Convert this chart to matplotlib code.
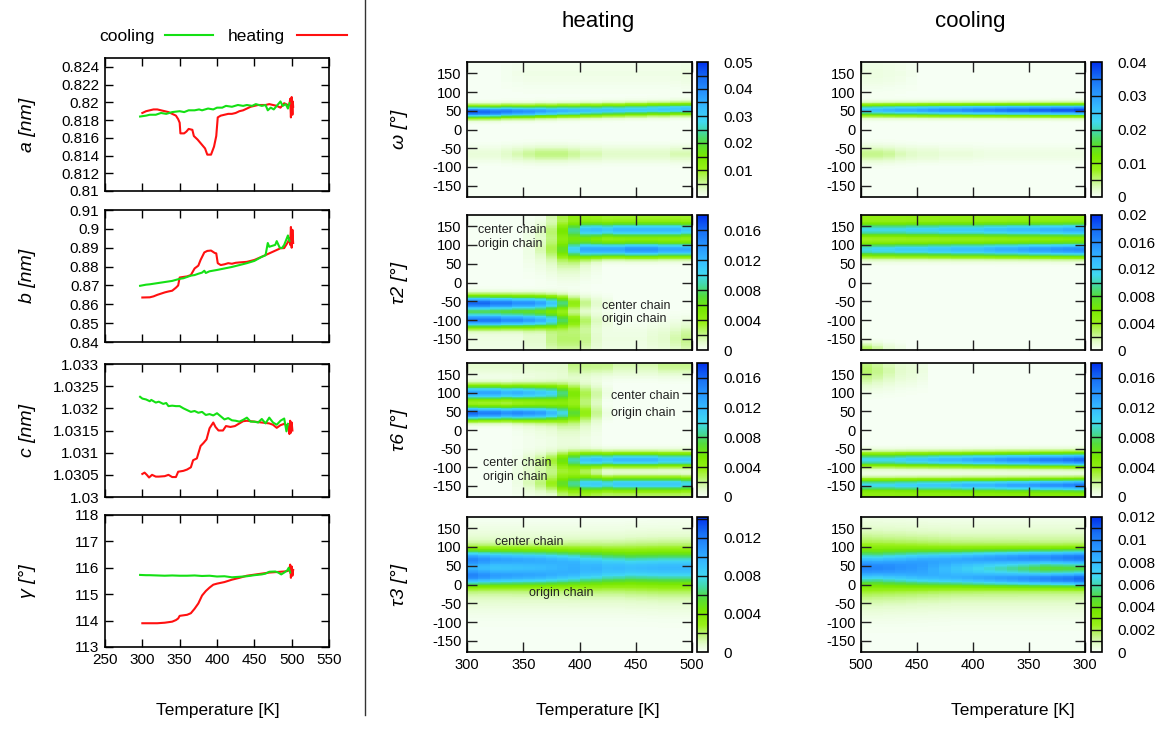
import numpy as np
import matplotlib
matplotlib.use('Agg')
import matplotlib.pyplot as plt
from matplotlib.colors import LinearSegmentedColormap, Normalize
from matplotlib.lines import Line2D

plt.rcParams['font.family'] = ['Liberation Sans', 'DejaVu Sans']
plt.rcParams['axes.unicode_minus'] = False

# ---------------- lattice parameter data (left column) ----------------
A_HEAT_T = [300, 305, 310, 315, 320, 325, 330, 335, 340, 345, 348, 350, 351, 356, 359, 362, 367, 369, 374, 379,
            384, 387, 392, 396, 399, 401, 405, 410, 415, 420, 425, 430, 435, 440, 445, 450, 455, 460, 465, 470,
            475, 480, 485, 490, 495, 497, 498, 499, 500, 501, 501.5, 502]
A_HEAT_V = [0.8188, 0.8190, 0.8191, 0.8192, 0.8192, 0.8191, 0.8190, 0.8189, 0.8187, 0.8185, 0.8181, 0.8177,
            0.8165, 0.8165, 0.8167, 0.8170, 0.8169, 0.8162, 0.8158, 0.8153, 0.8148, 0.8141, 0.8141, 0.8150,
            0.8162, 0.8183, 0.8185, 0.8186, 0.8187, 0.8187, 0.8188, 0.8190, 0.8191, 0.8193, 0.8195, 0.8196,
            0.8197, 0.8197, 0.8197, 0.8198, 0.8197, 0.8196, 0.8194, 0.8199, 0.8197, 0.8197, 0.8204, 0.8183,
            0.8206, 0.8186, 0.8201, 0.8195]
A_COOL_T = [297, 305, 310, 318, 325, 332, 340, 350, 356, 362, 370, 376, 380, 388, 395, 400, 407, 412, 420, 428,
            435, 440, 447, 452, 460, 465, 468, 472, 476, 480, 485, 488, 492, 495, 497]
A_COOL_V = [0.8184, 0.8185, 0.8186, 0.8186, 0.8188, 0.8187, 0.8189, 0.8190, 0.8189, 0.8191, 0.8191, 0.8192,
            0.8191, 0.8193, 0.8192, 0.8194, 0.8194, 0.8196, 0.8195, 0.8197, 0.8196, 0.8197, 0.8196, 0.8198,
            0.8196, 0.8197, 0.8191, 0.8194, 0.8192, 0.8196, 0.8201, 0.8196, 0.8198, 0.8193, 0.8199]

B_HEAT_T = [300, 310, 315, 320, 330, 335, 340, 345, 348, 350, 355, 360, 365, 370, 375, 378, 383, 387, 392, 397,
            399, 401, 405, 410, 415, 420, 425, 430, 440, 450, 460, 470, 480, 485, 490, 495, 497, 498, 499, 500,
            501, 502]
B_HEAT_V = [0.8636, 0.8637, 0.8642, 0.8650, 0.8663, 0.8668, 0.8672, 0.8688, 0.8700, 0.8742, 0.8745, 0.8748,
            0.8755, 0.8790, 0.8805, 0.8835, 0.8875, 0.8883, 0.8885, 0.8872, 0.8870, 0.8818, 0.8808, 0.8812,
            0.8818, 0.8815, 0.8820, 0.8822, 0.8825, 0.8835, 0.8852, 0.8870, 0.8888, 0.8897, 0.8898, 0.8930,
            0.8950, 0.8915, 0.9010, 0.8900, 0.8995, 0.8925]
B_COOL_T = [297, 305, 310, 320, 330, 340, 350, 355, 360, 365, 370, 375, 380, 383, 385, 390, 400, 410, 420, 430,
            440, 450, 460, 465, 468, 470, 474, 478, 480, 484, 487, 490, 495, 497]
B_COOL_V = [0.8698, 0.8704, 0.8706, 0.8712, 0.8718, 0.8724, 0.8735, 0.8738, 0.8745, 0.8752, 0.8755, 0.8762,
            0.8768, 0.8778, 0.8766, 0.8775, 0.8782, 0.8790, 0.8798, 0.8808, 0.8818, 0.8830, 0.8852, 0.8860,
            0.8925, 0.8905, 0.8910, 0.8915, 0.8935, 0.8900, 0.8898, 0.8915, 0.8965, 0.8935]

C_HEAT_T = [300, 303, 306, 309, 313, 318, 322, 330, 335, 340, 345, 348, 355, 360, 365, 368, 373, 378, 382, 386,
            390, 395, 398, 402, 408, 412, 418, 424, 430, 435, 440, 450, 460, 470, 475, 480, 485, 490, 495, 497,
            498, 499, 500, 501]
C_HEAT_V = [1.03052, 1.03055, 1.03050, 1.03044, 1.03050, 1.03046, 1.03046, 1.03047, 1.03050, 1.03045, 1.03045,
            1.03057, 1.03059, 1.03062, 1.03067, 1.03083, 1.03087, 1.03115, 1.03122, 1.03130, 1.03155, 1.03168,
            1.03158, 1.03150, 1.03150, 1.03160, 1.03158, 1.03160, 1.03166, 1.03171, 1.03172, 1.03170, 1.03168,
            1.03166, 1.03163, 1.03156, 1.03162, 1.03165, 1.03160, 1.03142, 1.03172, 1.03145, 1.03168, 1.03150]
C_COOL_T = [297, 300, 305, 310, 312, 318, 322, 328, 332, 335, 340, 345, 350, 355, 360, 365, 370, 375, 380, 385,
            390, 395, 400, 405, 410, 415, 420, 425, 430, 435, 440, 445, 450, 455, 460, 465, 470, 475, 480, 485,
            490, 493, 495]
C_COOL_V = [1.03226, 1.03222, 1.03220, 1.03216, 1.03219, 1.03213, 1.03215, 1.03210, 1.03212, 1.03205, 1.03206,
            1.03205, 1.03205, 1.03200, 1.03196, 1.03192, 1.03194, 1.03190, 1.03192, 1.03185, 1.03187, 1.03184,
            1.03189, 1.03182, 1.03175, 1.03178, 1.03173, 1.03172, 1.03170, 1.03174, 1.03179, 1.03170, 1.03170,
            1.03168, 1.03176, 1.03166, 1.03179, 1.03168, 1.03163, 1.03172, 1.03177, 1.03148, 1.03165]

G_HEAT_T = [300, 310, 320, 330, 340, 345, 348, 350, 360, 365, 370, 375, 380, 385, 390, 395, 400, 410, 420, 430,
            440, 450, 460, 470, 480, 490, 495, 497, 498, 499, 500, 501, 502]
G_HEAT_V = [113.90, 113.90, 113.90, 113.92, 113.96, 114.02, 114.08, 114.18, 114.22, 114.28, 114.45, 114.65,
            114.95, 115.12, 115.25, 115.36, 115.40, 115.46, 115.55, 115.62, 115.70, 115.74, 115.78, 115.82,
            115.84, 115.86, 115.88, 115.95, 116.12, 115.62, 116.05, 115.70, 115.92]
G_COOL_T = [297, 305, 310, 320, 330, 340, 350, 360, 370, 380, 390, 400, 410, 420, 430, 440, 450, 460, 465, 470,
            478, 482, 486, 490, 494, 496, 498]
G_COOL_V = [115.73, 115.72, 115.72, 115.71, 115.70, 115.71, 115.70, 115.70, 115.71, 115.69, 115.70, 115.67,
            115.68, 115.64, 115.66, 115.68, 115.72, 115.75, 115.78, 115.85, 115.86, 115.82, 115.75, 115.82,
            115.90, 116.00, 115.82]

# ---------------- torsion-angle distributions (heat maps) ----------------
TEMP_BINS = [300, 310, 320, 330, 340, 350, 360, 370, 380, 390, 400, 410, 420, 430, 440, 450, 460, 470, 480, 490, 500]

# each peak: centre [deg] (scalar or per temperature bin), width [deg], peak density per temperature bin
H_OMEGA_CENTERS = [[47, 47, 47, 48, 48, 48, 49, 49, 50, 50, 51, 51, 52, 52, 53, 53, 54, 54, 55, 55], -65, 150]
H_OMEGA_WIDTHS = [10.5, 15, 30]
H_OMEGA_AMPS = [
    [0.046, 0.045, 0.043, 0.042, 0.040, 0.039, 0.037, 0.035, 0.034, 0.033, 0.032, 0.031, 0.031, 0.030, 0.030, 0.030, 0.030, 0.031, 0.031, 0.032],
    [0.002, 0.002, 0.002, 0.003, 0.004, 0.005, 0.006, 0.006, 0.006, 0.005, 0.004, 0.004, 0.003, 0.003, 0.003, 0.003, 0.003, 0.003, 0.004, 0.004],
    [0, 0, 0, 0.0005, 0.0008, 0.001, 0.001, 0.001, 0.001, 0.001, 0.001, 0.001, 0.001, 0.001, 0.001, 0.001, 0.001, 0.001, 0.0012, 0.0015],
]
H_TAU2_CENTERS = [-55, -100, 140, 88, 100, -150, 178]
H_TAU2_WIDTHS = [13.5, 13.5, 14, 14, 45, 30, 12]
H_TAU2_AMPS = [
    [0.016, 0.016, 0.015, 0.015, 0.014, 0.014, 0.013, 0.011, 0.008, 0.004, 0.002, 0.001, 0.0005, 0, 0, 0, 0, 0, 0, 0],
    [0.015, 0.015, 0.015, 0.014, 0.014, 0.013, 0.012, 0.010, 0.007, 0.004, 0.002, 0.001, 0.0005, 0, 0, 0, 0, 0, 0, 0],
    [0, 0, 0, 0, 0, 0, 0.0005, 0.001, 0.003, 0.006, 0.010, 0.011, 0.011, 0.012, 0.012, 0.012, 0.012, 0.012, 0.012, 0.011],
    [0, 0, 0, 0, 0, 0, 0.0005, 0.001, 0.003, 0.007, 0.011, 0.012, 0.013, 0.013, 0.014, 0.014, 0.014, 0.013, 0.013, 0.013],
    [0, 0, 0, 0, 0, 0.0005, 0.001, 0.002, 0.0035, 0.0035, 0.002, 0.001, 0, 0, 0, 0, 0, 0, 0, 0],
    [0.0005, 0.0005, 0.0005, 0.0005, 0.0005, 0.001, 0.001, 0.002, 0.0025, 0.0025, 0.002, 0.001, 0.0005, 0.0005, 0.0005, 0.0005, 0.0008, 0.001, 0.0015, 0.002],
    [0, 0, 0, 0, 0, 0, 0, 0.001, 0.002, 0.003, 0.003, 0.003, 0.003, 0.003, 0.003, 0.003, 0.003, 0.003, 0.003, 0.003],
]
H_TAU6_CENTERS = [100, 45, -80, -145, 60, -120, 175, -178]
H_TAU6_WIDTHS = [14, 13, 13, 13, 45, 40, 20, 10]
H_TAU6_AMPS = [
    [0.013, 0.013, 0.013, 0.012, 0.012, 0.011, 0.010, 0.009, 0.006, 0.003, 0.0015, 0.001, 0.0005, 0, 0, 0, 0, 0, 0, 0],
    [0.016, 0.015, 0.015, 0.014, 0.014, 0.013, 0.012, 0.010, 0.007, 0.004, 0.002, 0.001, 0.0005, 0, 0, 0, 0, 0, 0, 0],
    [0, 0, 0, 0, 0, 0.0005, 0.001, 0.002, 0.004, 0.007, 0.010, 0.011, 0.011, 0.012, 0.012, 0.012, 0.012, 0.011, 0.011, 0.011],
    [0, 0, 0, 0, 0, 0.0005, 0.001, 0.002, 0.004, 0.006, 0.009, 0.010, 0.010, 0.011, 0.011, 0.011, 0.011, 0.011, 0.011, 0.010],
    [0, 0, 0, 0, 0.0005, 0.001, 0.0015, 0.002, 0.003, 0.003, 0.002, 0.001, 0, 0, 0, 0, 0, 0, 0, 0],
    [0, 0, 0, 0, 0.0005, 0.001, 0.0015, 0.002, 0.003, 0.003, 0.002, 0.001, 0, 0, 0, 0, 0, 0, 0, 0],
    [0.001, 0.001, 0.001, 0.001, 0.001, 0.001, 0.001, 0.001, 0.001, 0.002, 0.002, 0.002, 0.002, 0.0015, 0.0015, 0.0015, 0.0015, 0.002, 0.002, 0.002],
    [0, 0, 0, 0, 0, 0, 0, 0, 0.001, 0.0015, 0.002, 0.002, 0.002, 0.002, 0.002, 0.002, 0.002, 0.002, 0.002, 0.002],
]
H_TAU3_CENTERS = [68, 22, 45, 40]
H_TAU3_WIDTHS = [17, 17, 28, 55]
H_TAU3_AMPS = [
    [0.009, 0.0085, 0.008, 0.0075, 0.007, 0.0065, 0.006, 0.005, 0.004, 0.003, 0.002, 0.0015, 0.001, 0.0005, 0, 0, 0, 0, 0, 0],
    [0.009, 0.0085, 0.008, 0.0075, 0.007, 0.0065, 0.006, 0.005, 0.004, 0.003, 0.002, 0.0015, 0.001, 0.0005, 0, 0, 0, 0, 0, 0],
    [0, 0, 0, 0.0005, 0.001, 0.0015, 0.002, 0.003, 0.004, 0.005, 0.0055, 0.006, 0.006, 0.0065, 0.0065, 0.0065, 0.0065, 0.0065, 0.0065, 0.0065],
    [0.0025, 0.0025, 0.0025, 0.0025, 0.0025, 0.0025, 0.0025, 0.0025, 0.0025, 0.0025, 0.0025, 0.0025, 0.0025, 0.0025, 0.0027, 0.0028, 0.0029, 0.003, 0.003, 0.003],
]
C_OMEGA_CENTERS = [52, -65, 150]
C_OMEGA_WIDTHS = [10.5, 15, 30]
C_OMEGA_AMPS = [
    [0.038, 0.037, 0.037, 0.036, 0.036, 0.035, 0.035, 0.034, 0.033, 0.033, 0.032, 0.031, 0.031, 0.030, 0.029, 0.028, 0.028, 0.027, 0.026, 0.025],
    [0.001, 0.001, 0.001, 0.001, 0.001, 0.001, 0.001, 0.001, 0.001, 0.0012, 0.0015, 0.0015, 0.0015, 0.002, 0.002, 0.0025, 0.003, 0.004, 0.0045, 0.0045],
    [0, 0, 0, 0, 0, 0, 0, 0, 0, 0, 0, 0, 0, 0, 0, 0.0005, 0.0008, 0.001, 0.0012, 0.0012],
]
C_TAU2_CENTERS = [140, 88, 178, -178]
C_TAU2_WIDTHS = [14, 14, 12, 12]
C_TAU2_AMPS = [
    [0.014, 0.014, 0.0135, 0.0135, 0.013, 0.013, 0.013, 0.0125, 0.0125, 0.012, 0.012, 0.012, 0.012, 0.0115, 0.0115, 0.0115, 0.011, 0.011, 0.011, 0.011],
    [0.016, 0.0158, 0.0155, 0.015, 0.015, 0.0145, 0.014, 0.014, 0.0135, 0.013, 0.013, 0.013, 0.0125, 0.0125, 0.012, 0.012, 0.012, 0.0115, 0.0115, 0.011],
    [0.004, 0.004, 0.004, 0.004, 0.004, 0.004, 0.004, 0.004, 0.004, 0.004, 0.004, 0.004, 0.004, 0.004, 0.004, 0.004, 0.004, 0.004, 0.004, 0.004],
    [0, 0, 0, 0, 0, 0, 0, 0, 0, 0, 0, 0, 0, 0, 0, 0, 0.0005, 0.001, 0.002, 0.003],
]
C_TAU6_CENTERS = [-80, -148, -180, 160]
C_TAU6_WIDTHS = [13, 12, 10, 30]
C_TAU6_AMPS = [
    [0.016, 0.0155, 0.015, 0.015, 0.0145, 0.014, 0.014, 0.0135, 0.013, 0.013, 0.0125, 0.012, 0.012, 0.0115, 0.011, 0.011, 0.0105, 0.010, 0.010, 0.010],
    [0.015, 0.0145, 0.014, 0.014, 0.0135, 0.013, 0.013, 0.0125, 0.012, 0.012, 0.012, 0.0115, 0.011, 0.011, 0.011, 0.0105, 0.0105, 0.010, 0.010, 0.010],
    [0.004, 0.004, 0.004, 0.004, 0.004, 0.004, 0.004, 0.004, 0.004, 0.004, 0.004, 0.004, 0.004, 0.004, 0.004, 0.004, 0.004, 0.004, 0.004, 0.004],
    [0, 0, 0, 0, 0, 0, 0, 0, 0, 0, 0, 0, 0, 0, 0.0005, 0.0008, 0.001, 0.0015, 0.002, 0.0025],
]
C_TAU3_CENTERS = [72, 15, 45, 45]
C_TAU3_WIDTHS = [15, 14, 27, 60]
C_TAU3_AMPS = [
    [0.008, 0.0078, 0.0075, 0.0072, 0.007, 0.0065, 0.006, 0.0055, 0.005, 0.0045, 0.004, 0.0035, 0.003, 0.0025, 0.002, 0.0015, 0.001, 0.0005, 0, 0],
    [0.0085, 0.008, 0.0078, 0.0075, 0.007, 0.0065, 0.006, 0.0055, 0.005, 0.0045, 0.004, 0.0035, 0.003, 0.0025, 0.002, 0.0015, 0.001, 0.0005, 0, 0],
    [0, 0, 0, 0, 0.0005, 0.001, 0.0015, 0.002, 0.0025, 0.003, 0.0035, 0.004, 0.0045, 0.005, 0.0055, 0.0058, 0.006, 0.0063, 0.0065, 0.0065],
    [0.0025, 0.0025, 0.0025, 0.0025, 0.0025, 0.0025, 0.0025, 0.0025, 0.0025, 0.0025, 0.0025, 0.0025, 0.0026, 0.0027, 0.0028, 0.0029, 0.003, 0.0031, 0.0032, 0.0033],
]

# colour-bar ranges, labelled ticks and minor separators
CB_MAX = {'H_OMEGA': 0.05, 'H_TAU2': 0.018, 'H_TAU6': 0.018, 'H_TAU3': 0.0142,
          'C_OMEGA': 0.04, 'C_TAU2': 0.02, 'C_TAU6': 0.018, 'C_TAU3': 0.012}
CB_TICKS = {'H_OMEGA': [0.01, 0.02, 0.03, 0.04, 0.05],
            'H_TAU2': [0, 0.004, 0.008, 0.012, 0.016],
            'H_TAU6': [0, 0.004, 0.008, 0.012, 0.016],
            'H_TAU3': [0, 0.004, 0.008, 0.012],
            'C_OMEGA': [0, 0.01, 0.02, 0.03, 0.04],
            'C_TAU2': [0, 0.004, 0.008, 0.012, 0.016, 0.02],
            'C_TAU6': [0, 0.004, 0.008, 0.012, 0.016],
            'C_TAU3': [0, 0.002, 0.004, 0.006, 0.008, 0.01, 0.012]}
CB_STEP = {'H_OMEGA': 0.005, 'H_TAU2': 0.002, 'H_TAU6': 0.002, 'H_TAU3': 0.002,
           'C_OMEGA': 0.005, 'C_TAU2': 0.002, 'C_TAU6': 0.002, 'C_TAU3': 0.001}

# ---------------- figure ----------------
W, H = 1157, 740
fig = plt.figure(figsize=(W / 100, H / 100), dpi=100)


def px_axes(l, t, r, b):
    return fig.add_axes([l / W, 1 - b / H, (r - l) / W, (b - t) / H])


cmap = LinearSegmentedColormap.from_list('gp', [
    (0.00, '#f6fff4'), (0.06, '#e2fcca'), (0.12, '#c0f680'), (0.20, '#98f018'),
    (0.30, '#78e800'), (0.40, '#54dc3c'), (0.48, '#44d8a0'), (0.56, '#40d8f2'),
    (0.66, '#36bcff'), (0.77, '#2896ff'), (0.88, '#1870f4'), (1.00, '#0030ee')])

GREEN = '#14e014'
RED = '#ff1010'

# ---- left column ----
left_specs = [
    (58, 191, A_HEAT_T, A_HEAT_V, A_COOL_T, A_COOL_V, (0.81, 0.825),
     [0.81, 0.812, 0.814, 0.816, 0.818, 0.82, 0.822, 0.824],
     ['0.81', '0.812', '0.814', '0.816', '0.818', '0.82', '0.822', '0.824'], 'a [nm]'),
    (210, 342, B_HEAT_T, B_HEAT_V, B_COOL_T, B_COOL_V, (0.84, 0.91),
     [0.84, 0.85, 0.86, 0.87, 0.88, 0.89, 0.90, 0.91],
     ['0.84', '0.85', '0.86', '0.87', '0.88', '0.89', '0.9', '0.91'], 'b [nm]'),
    (364, 497, C_HEAT_T, C_HEAT_V, C_COOL_T, C_COOL_V, (1.03, 1.033),
     [1.03, 1.0305, 1.031, 1.0315, 1.032, 1.0325, 1.033],
     ['1.03', '1.0305', '1.031', '1.0315', '1.032', '1.0325', '1.033'], 'c [nm]'),
    (515, 647, G_HEAT_T, G_HEAT_V, G_COOL_T, G_COOL_V, (113, 118),
     [113, 114, 115, 116, 117, 118], ['113', '114', '115', '116', '117', '118'], 'γ [°]'),
]
for i, (t, b, ht, hv, ct, cv, ylim, yt, ytl, lab) in enumerate(left_specs):
    ax = px_axes(105, t, 329, b)
    ax.plot(ht, hv, color=RED, lw=1.5)
    ax.plot(ct, cv, color=GREEN, lw=1.5)
    ax.set_xlim(250, 550)
    ax.set_ylim(*ylim)
    ax.set_yticks(yt)
    ax.set_yticklabels(ytl)
    ax.set_xticks([250, 300, 350, 400, 450, 500, 550])
    ax.tick_params(direction='in', length=6, width=1, top=True, right=True, labelsize=11, pad=4)
    if i < 3:
        ax.set_xticklabels([])
    for s in ax.spines.values():
        s.set_linewidth(1.2)
    fig.text(27 / W, 1 - (t + b) / 2 / H, lab, rotation=90, ha='center', va='center',
             fontsize=14, style='italic')

# legend
fig.text(127 / W, 1 - 36 / H, 'cooling', ha='center', va='center', fontsize=12.5)
fig.add_artist(Line2D([165 / W, 213 / W], [1 - 35 / H, 1 - 35 / H], color=GREEN, lw=1.5))
fig.text(256 / W, 1 - 36 / H, 'heating', ha='center', va='center', fontsize=12.5)
fig.add_artist(Line2D([297 / W, 347 / W], [1 - 35 / H, 1 - 35 / H], color=RED, lw=1.5))
fig.text(218 / W, 1 - 710 / H, 'Temperature [K]', ha='center', va='center', fontsize=12.5)

# divider
fig.add_artist(Line2D([365 / W, 365 / W], [1.0, 1 - 715 / H], color='#333333', lw=1))

# ---- heat maps ----
ANG_EDGES = np.arange(-180, 181, 2)
ANG_MID = (ANG_EDGES[:-1] + ANG_EDGES[1:]) / 2


def density(centers, widths, amps):
    ncol = len(TEMP_BINS) - 1
    z = np.zeros((len(ANG_MID), ncol))
    for c, w, a in zip(centers, widths, amps):
        for j in range(ncol):
            cj = c[j] if isinstance(c, list) else c
            z[:, j] += a[j] * np.exp(-0.5 * ((ANG_MID - cj) / w) ** 2)
    return z


rows = [(62, 197), (215, 350), (363, 497), (517, 652)]
heat_panels = [('H_OMEGA', H_OMEGA_CENTERS, H_OMEGA_WIDTHS, H_OMEGA_AMPS, 'ω [°]'),
               ('H_TAU2', H_TAU2_CENTERS, H_TAU2_WIDTHS, H_TAU2_AMPS, 'τ2 [°]'),
               ('H_TAU6', H_TAU6_CENTERS, H_TAU6_WIDTHS, H_TAU6_AMPS, 'τ6 [°]'),
               ('H_TAU3', H_TAU3_CENTERS, H_TAU3_WIDTHS, H_TAU3_AMPS, 'τ3 [°]')]
cool_panels = [('C_OMEGA', C_OMEGA_CENTERS, C_OMEGA_WIDTHS, C_OMEGA_AMPS),
               ('C_TAU2', C_TAU2_CENTERS, C_TAU2_WIDTHS, C_TAU2_AMPS),
               ('C_TAU6', C_TAU6_CENTERS, C_TAU6_WIDTHS, C_TAU6_AMPS),
               ('C_TAU3', C_TAU3_CENTERS, C_TAU3_WIDTHS, C_TAU3_AMPS)]


def fmt(v):
    if v == 0:
        return '0'
    return ('%.3f' % v).rstrip('0')


def draw_heat(key, centers, widths, amps, l, r, cl, cr, t, b, reverse, last):
    ax = px_axes(l, t, r, b)
    z = density(centers, widths, amps)
    vmax = CB_MAX[key]
    mesh = ax.pcolormesh(TEMP_BINS, ANG_EDGES, z, cmap=cmap, norm=Normalize(0, vmax),
                         shading='flat', rasterized=True)
    ax.set_xlim((500, 300) if reverse else (300, 500))
    ax.set_ylim(-180, 180)
    ax.set_yticks([-150, -100, -50, 0, 50, 100, 150])
    ax.set_xticks([300, 350, 400, 450, 500])
    ax.tick_params(direction='in', length=7, width=1, top=True, right=True, labelsize=10.5,
                   pad=4, color='#222222')
    if not last:
        ax.set_xticklabels([])
    for s in ax.spines.values():
        s.set_linewidth(1.2)
    cax = px_axes(cl, t, cr, b)
    cb = fig.colorbar(mesh, cax=cax)
    cb.set_ticks(CB_TICKS[key])
    cb.set_ticklabels([fmt(v) for v in CB_TICKS[key]])
    cax.tick_params(length=0, labelsize=11, pad=11)
    cb.outline.set_linewidth(1.2)
    nstep = int(round(vmax / CB_STEP[key]))
    levels = [k * CB_STEP[key] for k in range(1, nstep + 1) if k * CB_STEP[key] < vmax * 0.999]
    cax.hlines(levels, 0, 1, colors='#111111', lw=1, transform=cax.get_yaxis_transform())
    return ax


heat_axes = []
for i, (key, c, w, a, lab) in enumerate(heat_panels):
    t, b = rows[i]
    ax = draw_heat(key, c, w, a, 467, 692, 697, 708, t, b, False, i == 3)
    heat_axes.append(ax)
    fig.text(399 / W, 1 - (t + b) / 2 / H, lab, rotation=90, ha='center', va='center',
             fontsize=14, style='italic')
for i, (key, c, w, a) in enumerate(cool_panels):
    t, b = rows[i]
    draw_heat(key, c, w, a, 861, 1085, 1091, 1102, t, b, True, i == 3)

# annotations
ANNOT = [(1, 310, 140, 'center chain'), (1, 310, 104, 'origin chain'),
         (1, 420, -62, 'center chain'), (1, 420, -98, 'origin chain'),
         (2, 428, 91, 'center chain'), (2, 428, 47, 'origin chain'),
         (2, 314, -89, 'center chain'), (2, 314, -125, 'origin chain'),
         (3, 325, 114, 'center chain'), (3, 355, -22, 'origin chain')]
for idx, x, y, s in ANNOT:
    heat_axes[idx].text(x, y, s, fontsize=9, ha='left', va='center', color='#222222')

fig.text(598 / W, 1 - 22 / H, 'heating', ha='center', va='center', fontsize=16)
fig.text(970 / W, 1 - 22 / H, 'cooling', ha='center', va='center', fontsize=16)
fig.text(598 / W, 1 - 710 / H, 'Temperature [K]', ha='center', va='center', fontsize=12.5)
fig.text(1013 / W, 1 - 710 / H, 'Temperature [K]', ha='center', va='center', fontsize=12.5)

fig.savefig('out.png', dpi=100)
